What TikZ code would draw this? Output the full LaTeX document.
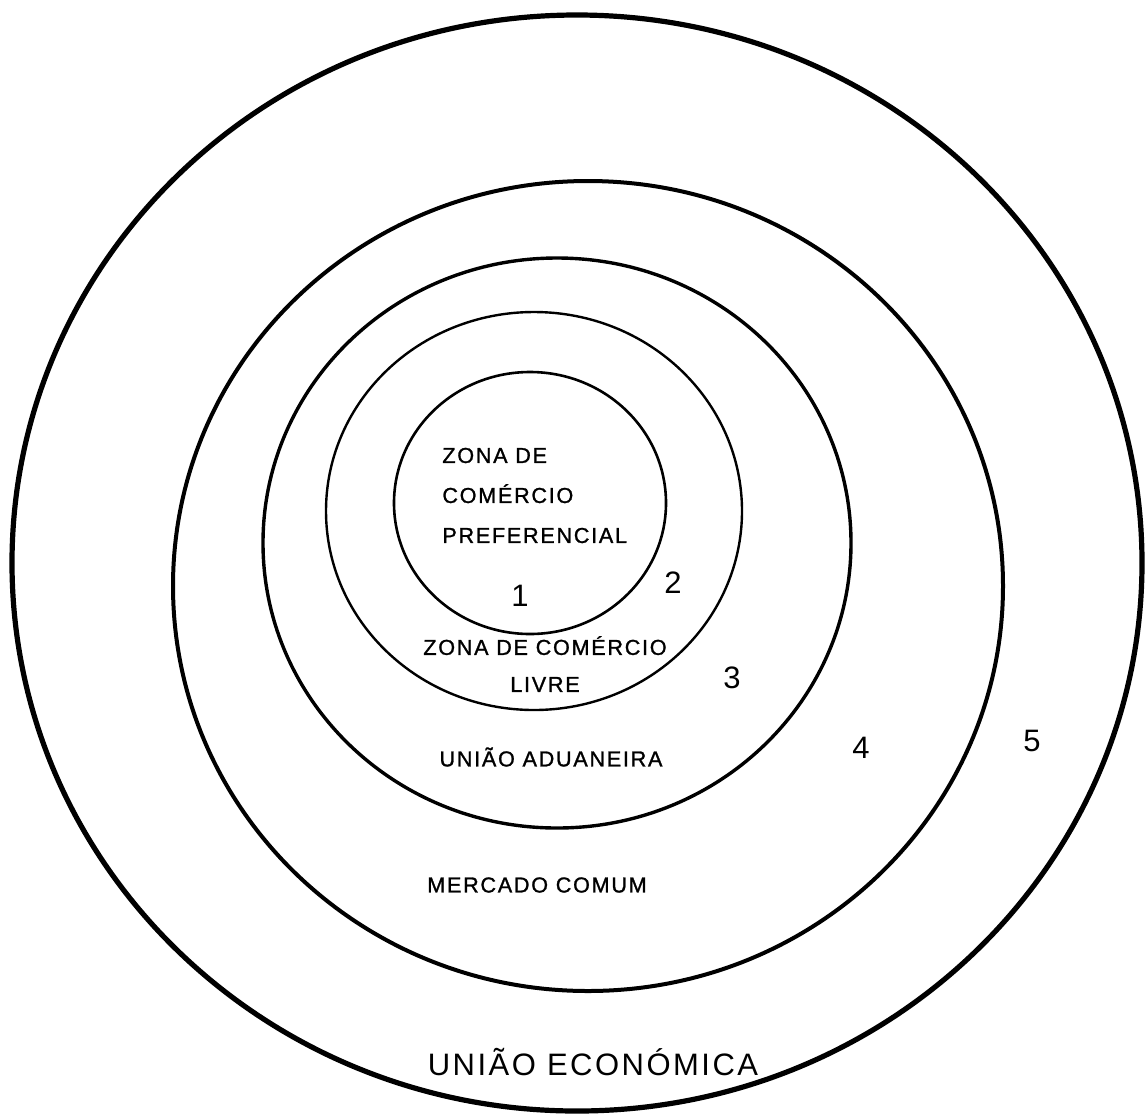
\documentclass[tikz,border=0pt]{standalone}
\usepackage{fontspec}
\setmainfont{Liberation Sans}
\newfontfamily\zonefont[LetterSpace=8, FakeBold=1.2]{Liberation Sans}
\newfontfamily\widefont[LetterSpace=8]{Liberation Sans}
\tikzset{
  ring/.style={draw=black, line width=#1},
  ring/.default=1.2pt,
  zone/.style={font=\zonefont\fontsize{10.8}{20}\selectfont, inner sep=0pt, align=center},
  bigzone/.style={font=\widefont\fontsize{15.5}{18}\selectfont, inner sep=0pt},
  rank/.style={font=\fontsize{15.5}{18}\selectfont, inner sep=0pt},
}

\begin{document}
\begin{tikzpicture}[x=0.5pt, y=-0.5pt]
\path[fill=white, use as bounding box] (0,0) rectangle (1145,1115);

% nested zones, innermost first
\draw[ring=1.3pt] (530,503) ellipse [x radius=136, y radius=131];
\draw[ring=1.2pt] (534,511) ellipse [x radius=208, y radius=199];
\draw[ring=1.7pt] (557,543) ellipse [x radius=294, y radius=285];
\draw[ring=2pt]   (588,586) ellipse [x radius=415, y radius=405];
\draw[ring=2.6pt] (577,563) ellipse [x radius=565, y radius=548];

\node[zone, align=left, anchor=west] (pref) at (442,495.5) {ZONA DE\\COMÉRCIO\\PREFERENCIAL};
\node[zone, font=\zonefont\fontsize{10.8}{18.5}\selectfont] (livre) at (545,664) {ZONA DE COMÉRCIO\\LIVRE};
\node[zone] (aduana) at (551,757) {UNIÃO ADUANEIRA};
\node[zone] (mercado) at (537,885) {MERCADO COMUM};
\node[bigzone] (economica) at (593,1062) {UNIÃO ECONÓMICA};

\node[rank] (r1) at (520,596) {1};
\node[rank] (r2) at (673,583) {2};
\node[rank] (r3) at (732,678) {3};
\node[rank] (r4) at (861,748) {4};
\node[rank] (r5) at (1032,741) {5};
\end{tikzpicture}
\end{document}
